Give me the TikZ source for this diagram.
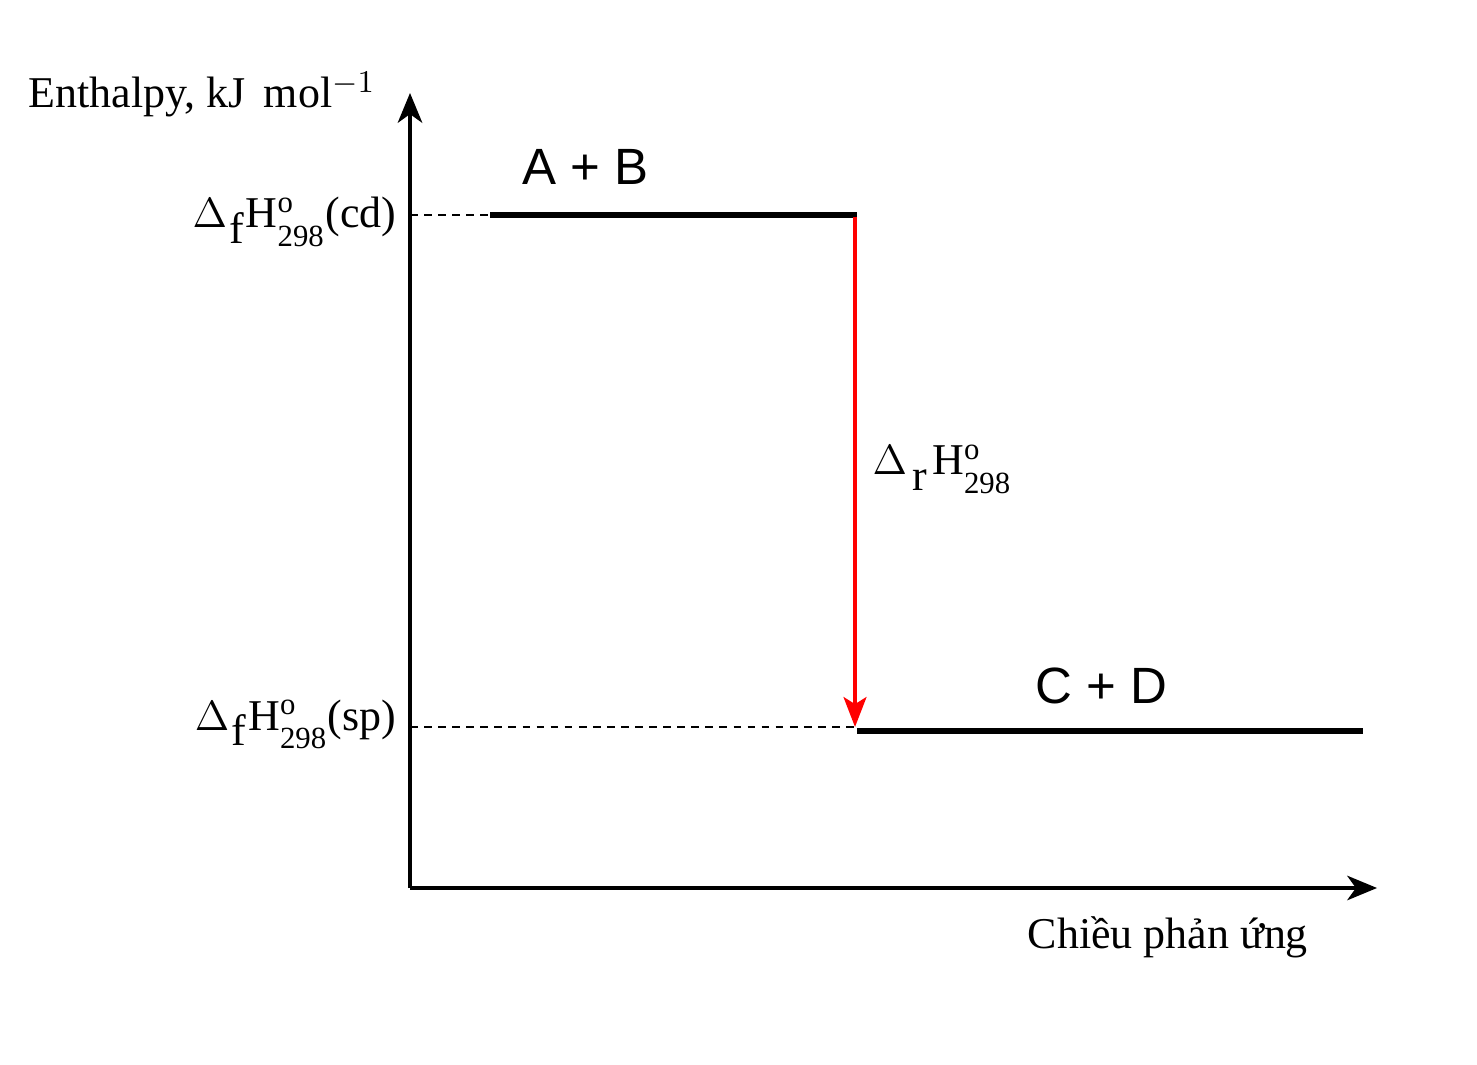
\documentclass[tikz,border=0pt]{standalone}
\usepackage{fontspec}
\setmainfont{Liberation Serif}
\newfontfamily\arialfont{Liberation Sans}
\usetikzlibrary{arrows.meta}

\tikzset{
  axis/.style={line width=0.9pt,-{Stealth[length=8.5pt,width=7pt,inset=2.5pt]}},
  level/.style={line width=1.5pt},
  guide/.style={line width=0.45pt,dash pattern=on 2.2pt off 1.8pt},
  drop/.style={red,line width=1.1pt,-{Stealth[length=8.5pt,width=6.5pt,inset=2pt]}},
  txt/.style={inner sep=0pt,font=\fontsize{12.5}{14}\selectfont},
  species/.style={inner sep=0pt,font=\fontsize{14.5}{16}\selectfont\arialfont}
}
% #1 = gap, #2 = lowered letter, #3 = tail
\newcommand{\dH}[3]{$\Delta$\kern#1\raisebox{-0.75ex}{#2}\kern#1H$^{\mathrm{o}}_{\raisebox{-0.4ex}{$\scriptstyle\mathrm{298}$}}$#3}

\begin{document}
\begin{tikzpicture}[x=0.01cm,y=-0.01cm]
\useasboundingbox (0,0) rectangle (1477,1065);

% axes
\coordinate (O) at (410,888);
\coordinate (ytop) at (410,93);
\coordinate (xend) at (1377,888);
\draw[axis] (O) -- (ytop);
\draw[axis] (O) -- (xend);

% energy levels
\coordinate (ycd) at (410,215);
\coordinate (cdL) at (490,215);
\coordinate (cdR) at (857,215);
\coordinate (ysp) at (410,727);
\coordinate (sptip) at (855,727);
\coordinate (spL) at (857,731);
\coordinate (spR) at (1363,731);
\draw[guide] (ycd) -- (cdL);
\draw[guide] (ysp) -- (sptip);
\draw[level] (cdL) -- (cdR);
\draw[level] (spL) -- (spR);
\draw[drop] (855,217) -- (sptip);

% labels
\node[txt,anchor=base west] (ylab) at (28,108) {Enthalpy, kJ\, mol$^{-1}$};
\node[txt,anchor=base east] (lblcd) at (397,228) {\dH{0.6pt}{f}{(cd)}};
\node[txt,anchor=base east] (lblsp) at (397,730) {\dH{0.6pt}{f}{(sp)}};
\node[txt,anchor=base west] (lblr) at (872,475) {\dH{1.5pt}{r}{}};
\node[txt,anchor=base west] (xlab) at (1027,948) {Chiều phản ứng};
\node[species,anchor=base west] (ab) at (522,185) {A + B};
\node[species,anchor=base west] (cd) at (1035,704) {C + D};
\end{tikzpicture}
\end{document}
